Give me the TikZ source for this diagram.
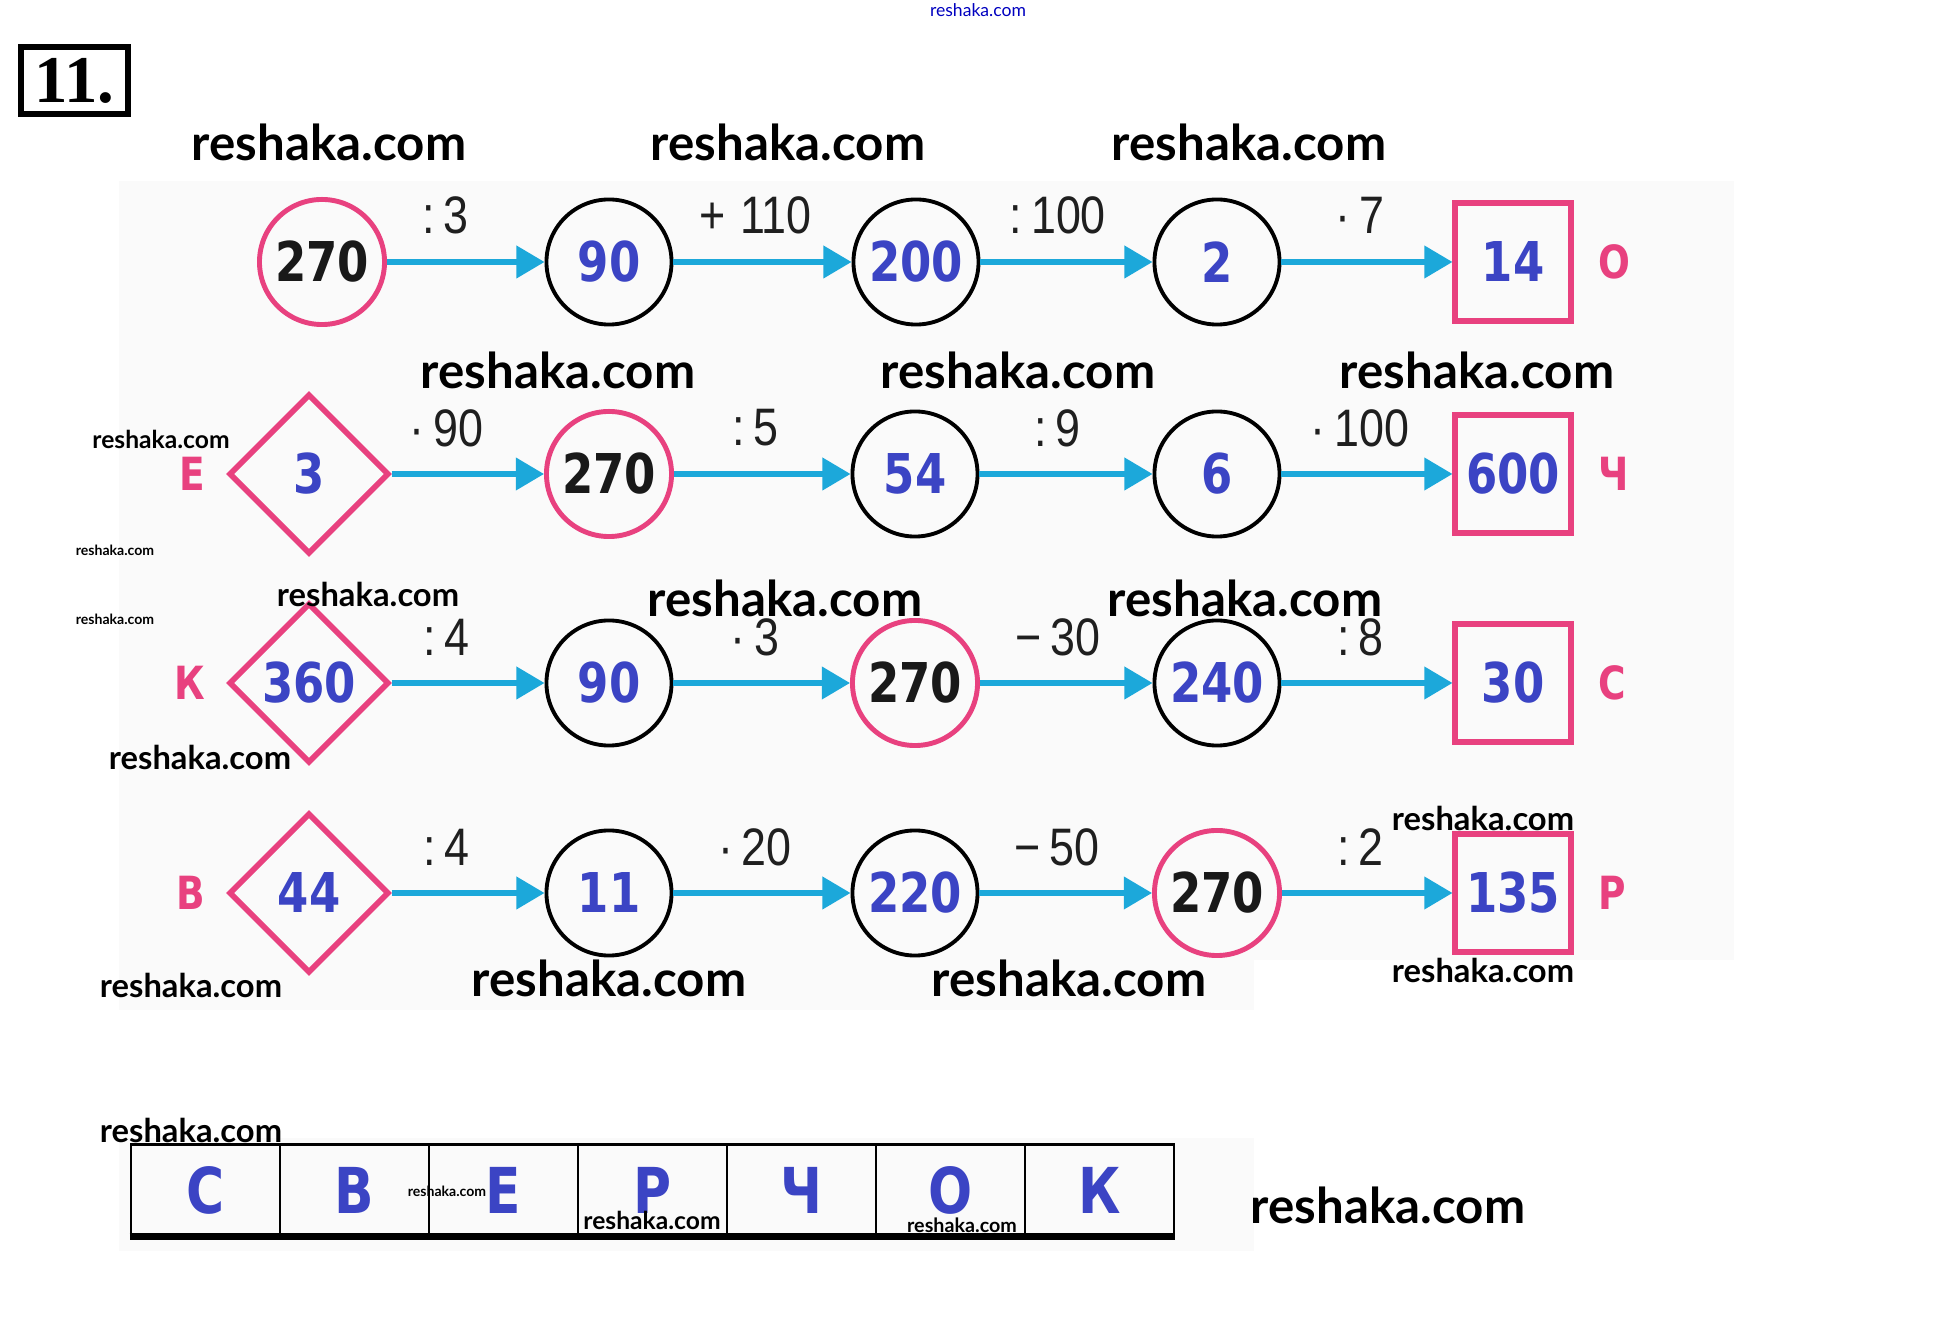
\documentclass[tikz,border=0pt]{standalone}
\usepackage{fontspec}
\usepackage{tikz}
\usetikzlibrary{positioning}
\usetikzlibrary{shapes.geometric}
\usetikzlibrary{arrows.meta}

\newfontfamily\wmfont{Lato}
\newfontfamily\numfont[FakeStretch=0.82]{DejaVu Sans}
\newfontfamily\opfont[FakeStretch=0.85]{Liberation Sans}
\newfontfamily\titfont{Liberation Serif}

\definecolor{pinkc}{HTML}{E8417F}
\definecolor{bluen}{HTML}{3B44C4}
\definecolor{arrc}{HTML}{1CA8DA}
\definecolor{panelc}{HTML}{FAFAFA}

\tikzstyle{crc}=[draw,circle,line width=1.1pt,minimum size=1.25cm,inner sep=0pt,text=bluen,font=\numfont\bfseries\fontsize{15.6}{16}\selectfont]
\tikzstyle{pcrc}=[crc,draw=pinkc,line width=1.4pt,text=black!90]
\tikzstyle{dmd}=[draw=pinkc,diamond,aspect=1,line width=1.6pt,minimum width=1.6cm,minimum height=1.6cm,inner sep=0pt,text=bluen,font=\numfont\bfseries\fontsize{15.6}{16}\selectfont]
\tikzstyle{sqr}=[draw=pinkc,rectangle,line width=1.7pt,minimum width=1.15cm,minimum height=1.18cm,inner sep=0pt,text=bluen,font=\numfont\bfseries\fontsize{15.6}{16}\selectfont]
\tikzstyle{ltr}=[inner sep=0pt,text=pinkc,font=\numfont\bfseries\fontsize{13}{14}\selectfont]
\tikzstyle{arr}=[draw=arrc,line width=1.5pt,-{Triangle[length=8pt,width=9pt]}]
\tikzstyle{op}=[inner sep=0pt,text=black!88,font=\opfont\fontsize{15}{16}\selectfont]
\tikzstyle{cell}=[draw,line width=0.7pt,minimum width=1.49cm,minimum height=0.91cm,inner sep=0pt,text=bluen,font=\numfont\bfseries\fontsize{18}{18}\selectfont]
\tikzstyle{wmL}=[inner sep=0pt,font=\wmfont\bfseries\fontsize{14}{15}\selectfont]
\tikzstyle{wmM}=[inner sep=0pt,font=\wmfont\bfseries\fontsize{9.3}{10}\selectfont]

\begin{document}
\begin{tikzpicture}[x=0.01cm,y=-0.01cm]
\useasboundingbox (0,0) rectangle (1956,1334);
\fill[panelc] (119,181) rectangle (1734,960);
\fill[panelc] (119,960) rectangle (1254,1010);
\fill[panelc] (119,1138) rectangle (1254,1251);

\node[draw,line width=1.5pt,minimum width=1.07cm,minimum height=0.67cm,inner sep=0pt,font=\titfont\bfseries\fontsize{19}{19}\selectfont] (num) at (74.5,80.5) {11.};

% row 1
\node[pcrc] (a1) at (322,262) {270};
\node[crc] (a2) at (609,262) {90};
\node[crc] (a3) at (916,262) {200};
\node[crc] (a4) at (1217,262) {2};
\node[sqr] (a5) at (1513,262) {14};
\node[ltr,right=0.24cm of a5] (la) {О};
\draw[arr] (a1) -- node[op,pos=0.37,yshift=0.47cm] {:\,3} (a2);
\draw[arr] (a2) -- node[op,pos=0.46,yshift=0.47cm] {+\;110} (a3);
\draw[arr] (a3) -- node[op,pos=0.45,yshift=0.47cm] {:\,100} (a4);
\draw[arr] (a4) -- node[op,pos=0.46,yshift=0.47cm] {·\,7} (a5);

% row 2
\node[dmd] (b1) at (309,474) {3};
\node[pcrc] (b2) at (609,474) {270};
\node[crc] (b3) at (915,474) {54};
\node[crc] (b4) at (1217,474) {6};
\node[sqr] (b5) at (1513,474) {600};
\node[ltr,left=0.2cm of b1] (lb) {Е};
\node[ltr,right=0.24cm of b5] (rb) {Ч};
\draw[arr] (b1) -- node[op,pos=0.36,yshift=0.46cm] {·\,90} (b2);
\draw[arr] (b2) -- node[op,pos=0.46,yshift=0.46cm] {:\,5} (b3);
\draw[arr] (b3) -- node[op,pos=0.45,yshift=0.46cm] {:\,9} (b4);
\draw[arr] (b4) -- node[op,pos=0.46,yshift=0.46cm] {·\,100} (b5);

% row 3
\node[dmd] (c1) at (309,683) {360};
\node[crc] (c2) at (609,683) {90};
\node[pcrc] (c3) at (915,683) {270};
\node[crc] (c4) at (1217,683) {240};
\node[sqr] (c5) at (1513,683) {30};
\node[ltr,left=0.2cm of c1] (lc) {К};
\node[ltr,right=0.24cm of c5] (rc) {С};
\draw[arr] (c1) -- node[op,pos=0.36,yshift=0.46cm] {:\,4} (c2);
\draw[arr] (c2) -- node[op,pos=0.46,yshift=0.46cm] {·\,3} (c3);
\draw[arr] (c3) -- node[op,pos=0.45,yshift=0.46cm] {−\,30} (c4);
\draw[arr] (c4) -- node[op,pos=0.46,yshift=0.46cm] {:\,8} (c5);

% row 4
\node[dmd] (d1) at (309,893) {44};
\node[crc] (d2) at (609,893) {11};
\node[crc] (d3) at (915,893) {220};
\node[pcrc] (d4) at (1217,893) {270};
\node[sqr] (d5) at (1513,893) {135};
\node[ltr,left=0.2cm of d1] (ld) {В};
\node[ltr,right=0.24cm of d5] (rd) {Р};
\draw[arr] (d1) -- node[op,pos=0.36,yshift=0.46cm] {:\,4} (d2);
\draw[arr] (d2) -- node[op,pos=0.46,yshift=0.46cm] {·\,20} (d3);
\draw[arr] (d3) -- node[op,pos=0.45,yshift=0.46cm] {−\,50} (d4);
\draw[arr] (d4) -- node[op,pos=0.46,yshift=0.46cm] {:\,2} (d5);

% answer word
\foreach \l [count=\k] in {С,В,Е,Р,Ч,О,К}
  \node[cell] (w\k) at ({131+149*(\k-0.5)},1190) {\l};
\draw[line width=2pt] (w1.south west) -- (w7.south east);

% site marks
\foreach \x/\y [count=\k] in {329/142,788/142,1249/142,558/370,1018/370,1477/370,785/598,1245/598,609/978,1069/978,1388/1205}
  \node[wmL] (wl\k) at (\x,\y) {reshaka.com};
\foreach \x/\y [count=\k] in {368/594,200/757,1483/818,1483/970,191/985,191/1130}
  \node[wmM] (wm\k) at (\x,\y) {reshaka.com};
\node[inner sep=0pt,font=\wmfont\bfseries\fontsize{7}{8}\selectfont] (ws1) at (161,439) {reshaka.com};
\node[inner sep=0pt,font=\wmfont\bfseries\fontsize{7}{8}\selectfont] (ws2) at (652,1220) {reshaka.com};
\node[inner sep=0pt,font=\wmfont\bfseries\fontsize{5.6}{6}\selectfont] (ws3) at (962,1225) {reshaka.com};
\node[inner sep=0pt,font=\wmfont\bfseries\fontsize{4}{5}\selectfont] (wt1) at (115,550) {reshaka.com};
\node[inner sep=0pt,font=\wmfont\bfseries\fontsize{4}{5}\selectfont] (wt2) at (115,619) {reshaka.com};
\node[inner sep=0pt,font=\wmfont\bfseries\fontsize{4}{5}\selectfont] (wt3) at (447,1191) {reshaka.com};
\node[inner sep=0pt,text=blue!75!black,font=\wmfont\fontsize{5}{6}\selectfont] (wtop) at (978,10) {reshaka.com};
\end{tikzpicture}
\end{document}
